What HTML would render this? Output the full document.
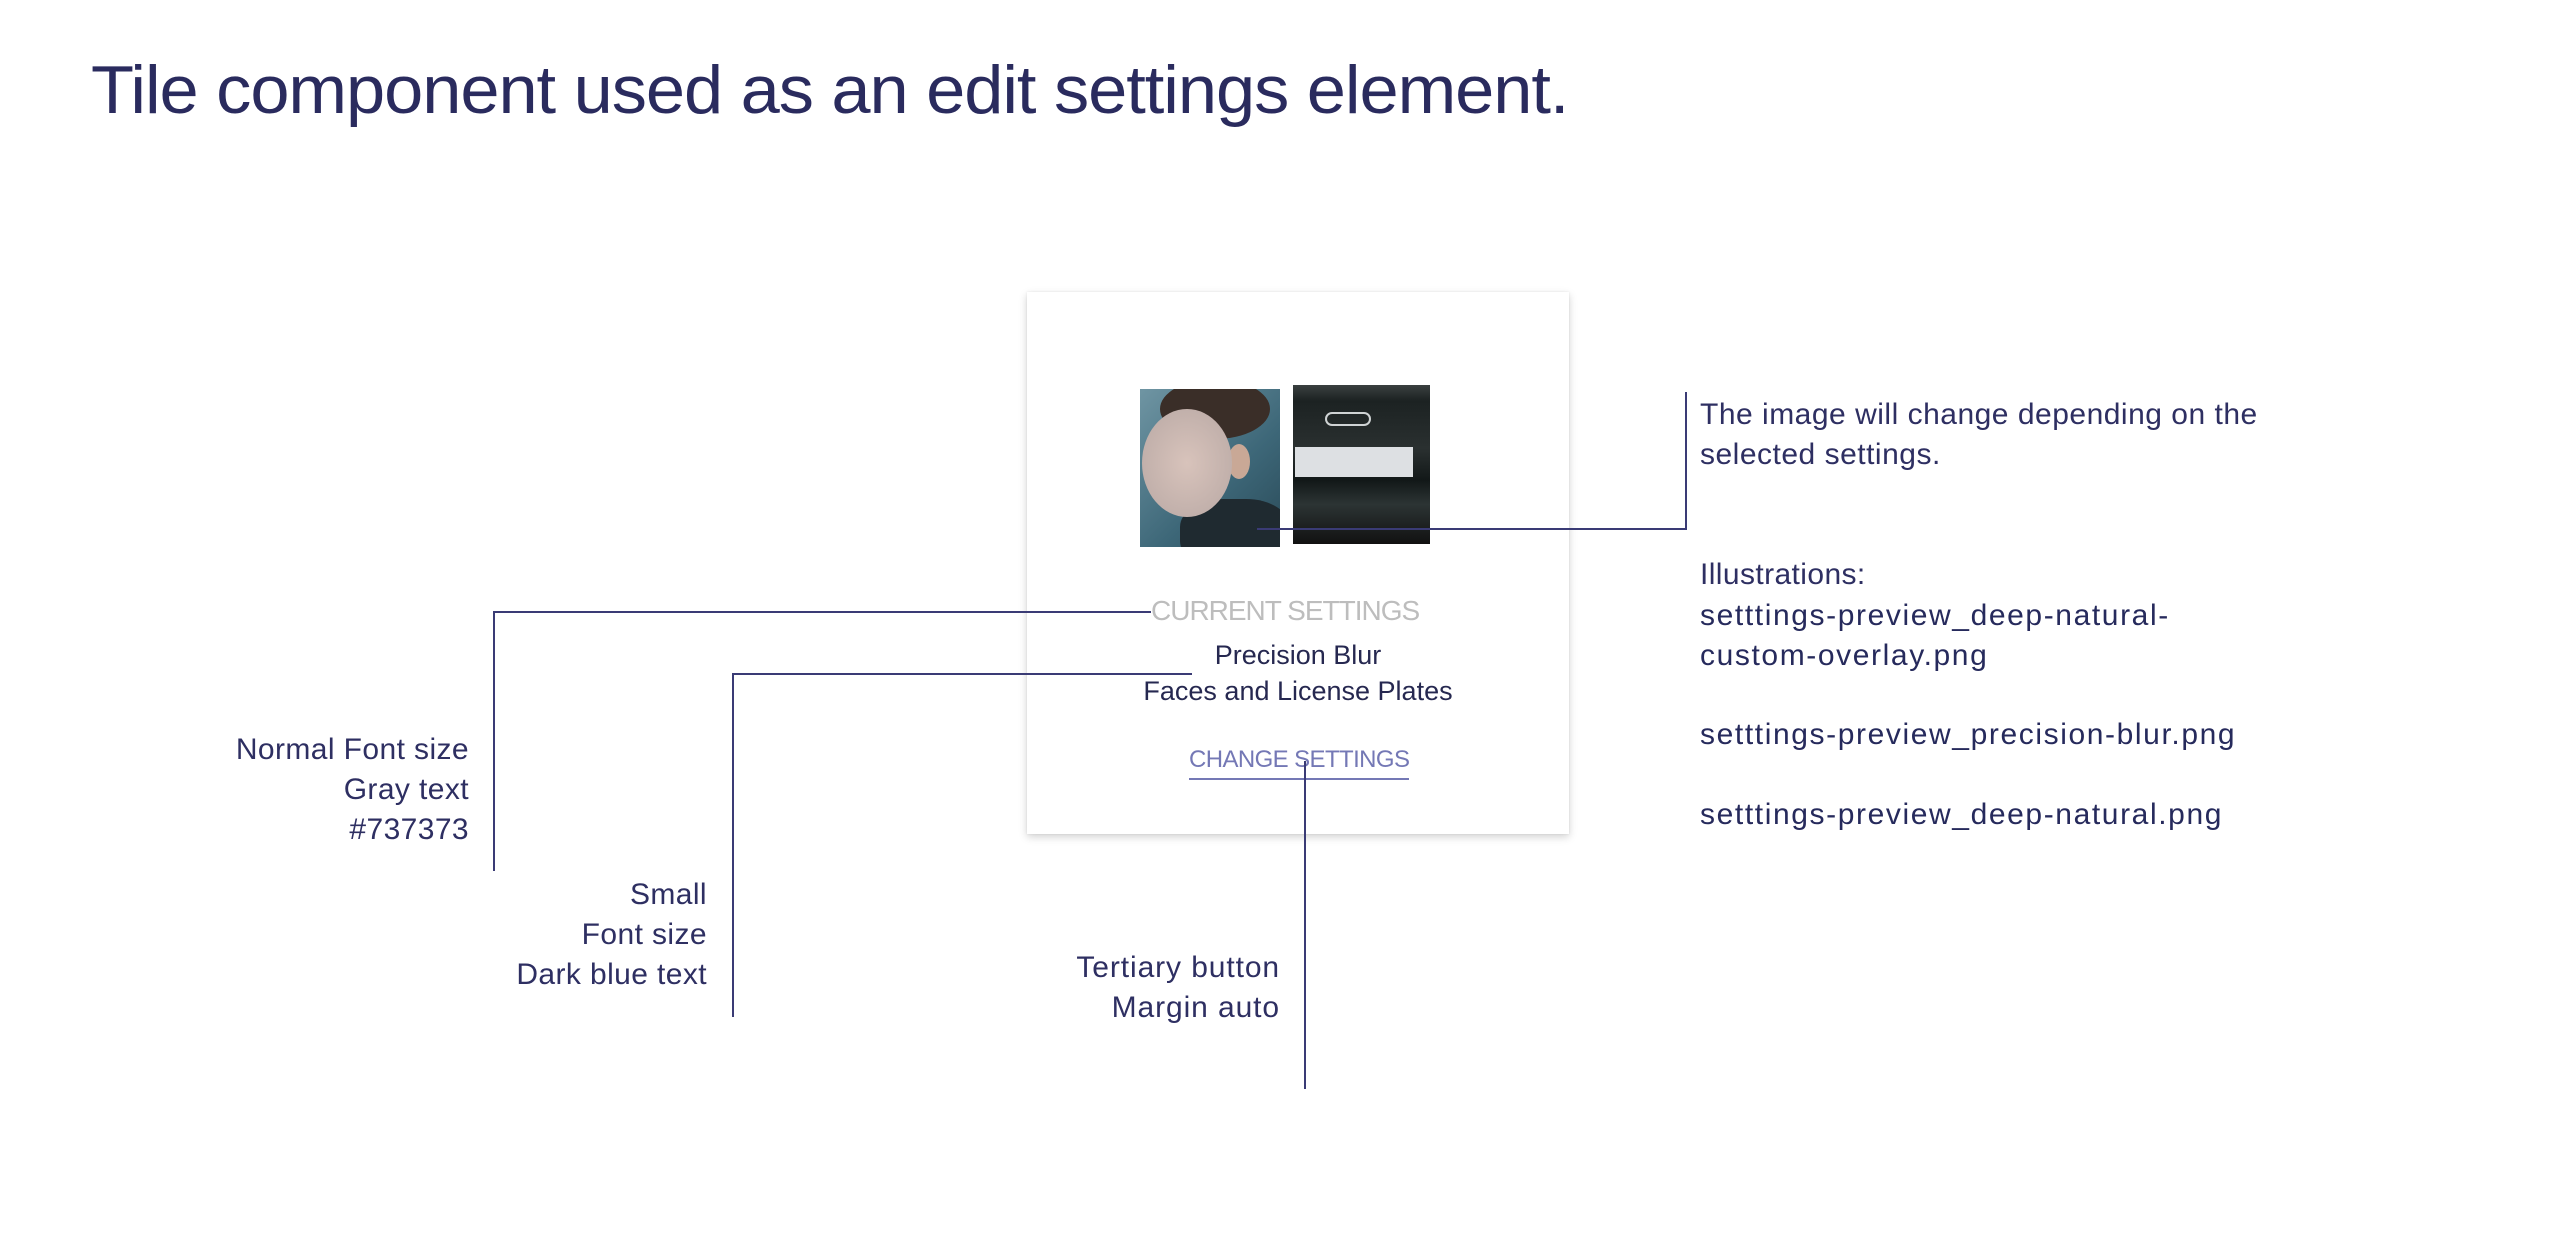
<!DOCTYPE html>
<html><head><meta charset="utf-8"><style>
html,body{margin:0;padding:0;background:#fff;}
body{width:2560px;height:1238px;position:relative;overflow:hidden;font-family:"Liberation Sans",sans-serif;color:#2a2b5e;}
.a{position:absolute;white-space:nowrap;}
.l{position:absolute;background:#3a3b75;}
.r{text-align:right;}
.lab{font-size:30px;line-height:40px;letter-spacing:0.4px;color:#2e2f62;}
.fn{font-size:30px;line-height:40px;color:#262a5c;letter-spacing:1.6px;}
</style></head><body>
<div class="a" style="left:91px;top:50px;font-size:68px;line-height:80px;letter-spacing:-1px;transform:scaleX(1.035);transform-origin:left;color:#2a2b5e;">Tile component used as an edit settings element.</div>

<!-- tile -->
<div class="a" style="left:1027px;top:292px;width:542px;height:542px;background:#fff;box-shadow:0 3px 8px rgba(0,0,0,0.18),0 0 2px rgba(0,0,0,0.08);"></div>

<!-- person image -->
<div class="a" style="left:1140px;top:389px;width:140px;height:158px;overflow:hidden;background:linear-gradient(135deg,#6f95a3,#3d6778 60%,#2a4a58);">
  <div class="a" style="left:20px;top:-10px;width:110px;height:60px;border-radius:50%;background:#3a2e28;"></div>
  <div class="a" style="left:40px;top:110px;width:110px;height:70px;border-radius:40%;background:#1f2a30;"></div>
  <div class="a" style="left:88px;top:55px;width:22px;height:35px;border-radius:50%;background:#c9a896;"></div>
  <div class="a" style="left:2px;top:20px;width:90px;height:108px;border-radius:50%;background:radial-gradient(#d8c3bb,#b8a8a4);"></div>
</div>
<!-- car image -->
<div class="a" style="left:1293px;top:385px;width:137px;height:159px;overflow:hidden;background:linear-gradient(#3a4040 0%,#1c2222 10%,#2a3030 40%,#121818 60%,#2c3434 75%,#111 100%);">
  <div class="a" style="left:32px;top:27px;width:46px;height:14px;border:2px solid #cfd3d4;border-radius:8px;box-sizing:border-box;"></div>
  <div class="a" style="left:2px;top:62px;width:118px;height:30px;background:#dde0e3;"></div>
</div>

<!-- image connector -->
<div class="l" style="left:1257px;top:528px;width:430px;height:2px;"></div>
<div class="l" style="left:1685px;top:392px;width:2px;height:138px;"></div>

<div class="a" style="left:1151px;top:594px;font-size:28px;line-height:34px;color:#bdbdbd;letter-spacing:-1px;">CURRENT SETTINGS</div>
<div class="a" style="left:1027px;width:542px;text-align:center;top:638px;font-size:27px;line-height:34px;color:#262850;">Precision Blur</div>
<div class="a" style="left:1027px;width:542px;text-align:center;top:674px;font-size:27px;line-height:34px;color:#262850;letter-spacing:0px;">Faces and License Plates</div>
<div class="a" style="left:1189px;top:745px;font-size:24px;line-height:30px;color:#7478b5;letter-spacing:-0.6px;">CHANGE SETTINGS</div>
<div class="a" style="left:1189px;top:778px;width:220px;height:2px;background:#7478b5;"></div>

<!-- left connectors -->
<div class="l" style="left:493px;top:611px;width:658px;height:2px;"></div>
<div class="l" style="left:493px;top:611px;width:2px;height:260px;"></div>
<div class="l" style="left:732px;top:673px;width:460px;height:2px;"></div>
<div class="l" style="left:732px;top:673px;width:2px;height:344px;"></div>
<div class="l" style="left:1304px;top:761px;width:2px;height:328px;"></div>

<!-- left labels -->
<div class="a r lab" style="right:2091px;top:730px;">Normal Font size<br>Gray text<br>#737373</div>
<div class="a r lab" style="right:1853px;top:875px;">Small<br>Font size<br>Dark blue text</div>
<div class="a r lab" style="right:1280px;top:948px;letter-spacing:0.9px;">Tertiary button<br>Margin auto</div>

<!-- right text -->
<div class="a lab" style="left:1700px;top:395px;letter-spacing:0.5px;">The image will change depending on the<br>selected settings.</div>
<div class="a lab" style="left:1700px;top:555px;">Illustrations:</div>
<div class="a fn" style="left:1700px;top:596px;">setttings-preview_deep-natural-<br>custom-overlay.png</div>
<div class="a fn" style="left:1700px;top:715px;">setttings-preview_precision-blur.png</div>
<div class="a fn" style="left:1700px;top:795px;">setttings-preview_deep-natural.png</div>
</body></html>
